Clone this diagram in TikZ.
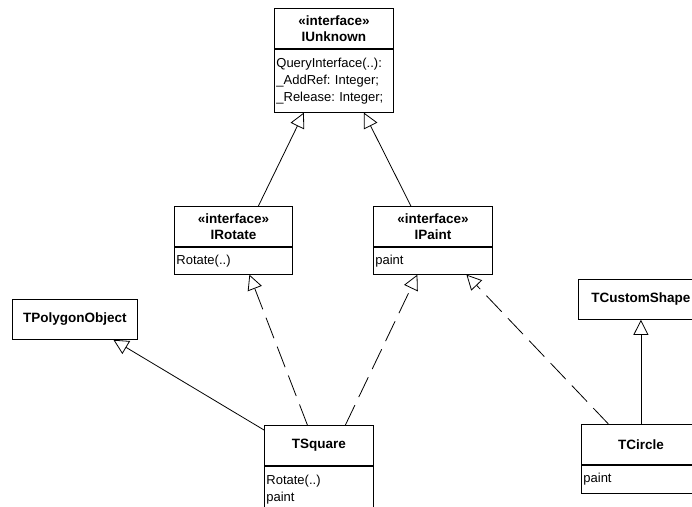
\documentclass[tikz,border=0pt]{standalone}
\usepackage{fontspec}
\setmainfont{Liberation Sans}
\usetikzlibrary{arrows.meta}
\frenchspacing
\hyphenpenalty=10000
\begin{document}
\begin{tikzpicture}[x=1pt,y=-1pt,
    head/.style={draw,line width=0.8pt,anchor=north west,minimum height=40pt,inner sep=0pt,align=center,font=\fontsize{13.5}{16}\selectfont\bfseries},
    ops/.style={draw,line width=0.8pt,anchor=north,inner xsep=2pt,inner ysep=0pt,align=left,font=\fontsize{13}{17}\selectfont},
    gen/.style={line width=0.8pt,-{Triangle[open,length=15pt,width=15pt]}},
    real/.style={gen,dash pattern=on 22pt off 9pt}]
\useasboundingbox (0,0) rectangle (692,506);
\clip (0,0) rectangle (692,506);

% interfaces
\node[head,minimum width=119pt] (iunknown) at (274,8) {«interface»\\IUnknown};
\node[ops,text width=115pt,minimum height=63pt] (iunknownops) at (iunknown.south) {QueryInterface(..):\\\_AddRef: Integer;\\\_Release: Integer;};

\node[head,minimum width=118pt] (irotate) at (174,206) {«interface»\\IRotate};
\node[ops,text width=114pt,minimum height=27pt] (irotateops) at (irotate.south) {Rotate(..)};

\node[head,minimum width=119pt] (ipaint) at (373,206) {«interface»\\IPaint};
\node[ops,text width=115pt,minimum height=27pt] (ipaintops) at (ipaint.south) {paint};

% classes
\node[head,minimum width=125pt] (tpolygon) at (12,299) {TPolygonObject};
\node[head,minimum width=125pt] (tcustom) at (578,279) {TCustomShape};

\node[head,minimum width=109pt] (tsquare) at (264,425) {TSquare};
\node[ops,text width=105pt,minimum height=46pt] (tsquareops) at (tsquare.south) {Rotate(..)\\paint};

\node[head,minimum width=119pt] (tcircle) at (581,424) {TCircle};
\node[ops,text width=115pt,minimum height=28pt] (tcircleops) at (tcircle.south) {paint};

% generalization
\draw[gen] ([xshift=25pt]irotate.north) -- ([xshift=-30pt]iunknownops.south);
\draw[gen] ([xshift=-22pt]ipaint.north) -- ([xshift=30pt]iunknownops.south);
\draw[gen] ([yshift=-5pt]tsquare.north west) -- ([xshift=38.5pt]tpolygon.south);
\draw[gen] (tcircle.north) -- (tcustom.south);

% realization
\draw[real] ([xshift=-11.5pt]tsquare.north) -- ([xshift=16pt]irotateops.south);
\draw[real] ([xshift=26.5pt]tsquare.north) -- ([xshift=-15.5pt]ipaintops.south);
\draw[real] ([xshift=-32.5pt]tcircle.north) -- ([xshift=33.5pt]ipaintops.south);
\end{tikzpicture}
\end{document}
